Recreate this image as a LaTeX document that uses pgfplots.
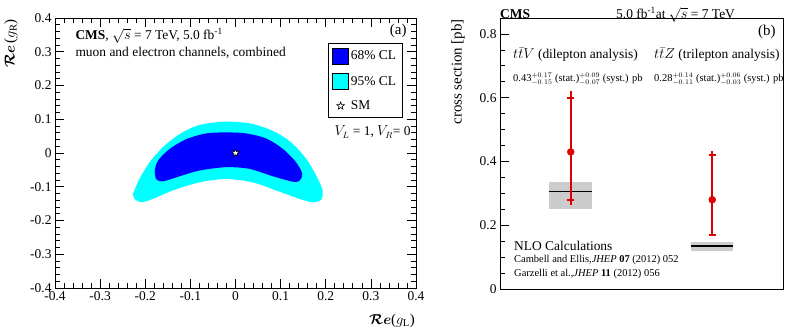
\documentclass[border=0pt]{standalone}
\usepackage{amsmath,amssymb}
\usepackage{pgfplots}
\pgfplotsset{compat=1.18}
\usepackage{fontspec}
\setmainfont{Liberation Serif}
\definecolor{cmsred}{HTML}{DD0000}
\definecolor{cla}{HTML}{0000FF}
\definecolor{clb}{HTML}{00FFFF}
\newcommand\fA{\fontsize{13.5}{16}\selectfont}
\newcommand\fB{\fontsize{10.5}{12}\selectfont}
\newcommand\fC{\fontsize{15}{17}\selectfont}

% open star with white fill
\pgfdeclareplotmark{wstar}{%
  \pgfpathmoveto{\pgfpointpolar{90}{\pgfplotmarksize}}%
  \pgfpathlineto{\pgfpointpolar{126}{0.42\pgfplotmarksize}}%
  \pgfpathlineto{\pgfpointpolar{162}{\pgfplotmarksize}}%
  \pgfpathlineto{\pgfpointpolar{198}{0.42\pgfplotmarksize}}%
  \pgfpathlineto{\pgfpointpolar{234}{\pgfplotmarksize}}%
  \pgfpathlineto{\pgfpointpolar{270}{0.42\pgfplotmarksize}}%
  \pgfpathlineto{\pgfpointpolar{306}{\pgfplotmarksize}}%
  \pgfpathlineto{\pgfpointpolar{342}{0.42\pgfplotmarksize}}%
  \pgfpathlineto{\pgfpointpolar{18}{\pgfplotmarksize}}%
  \pgfpathlineto{\pgfpointpolar{54}{0.42\pgfplotmarksize}}%
  \pgfpathclose
  \pgfusepathqfillstroke}

\pgfplotsset{
  rootaxis/.style={
    scale only axis,
    tick align=inside,
    major tick length=9bp,
    minor tick length=5bp,
    every tick/.style={black, line width=0.7bp},
    axis line style={line width=0.8bp},
    tick label style={font=\fA},
    /pgf/number format/assume math mode=true,
  },
}

\begin{document}
\begin{tikzpicture}
\useasboundingbox (0,0) rectangle (789bp,333bp);

% ---------- (a) coupling limits ----------
\begin{axis}[rootaxis,
    at={(55bp,45bp)}, anchor=south west,
    width=361bp, height=270bp,
    xmin=-0.4, xmax=0.4, ymin=-0.4, ymax=0.4,
    xtick={-0.4,-0.3,-0.2,-0.1,0,0.1,0.2,0.3,0.4},
    ytick={-0.4,-0.3,-0.2,-0.1,0,0.1,0.2,0.3,0.4},
    minor tick num=4,
    legend style={at={(0.756,0.907)}, anchor=north west, draw=black, line width=0.8bp,
                  font=\fA, inner sep=4bp, row sep=9bp},
    legend cell align=left,
]
\addplot[fill=clb, draw=none, smooth, tension=0.5, forget plot] coordinates {
  (-0.227,-0.121) (-0.213,-0.077) (-0.190,-0.027) (-0.161,0.017) (-0.124,0.056)
  (-0.080,0.083) (-0.021,0.093) (0.038,0.086) (0.090,0.061) (0.127,0.027)
  (0.157,-0.018) (0.179,-0.067) (0.193,-0.111) (0.190,-0.138) (0.171,-0.146)
  (0.142,-0.136) (0.090,-0.111) (0.038,-0.087) (-0.021,-0.077) (-0.080,-0.087)
  (-0.139,-0.111) (-0.183,-0.136) (-0.209,-0.146) (-0.224,-0.136) (-0.227,-0.121)};
\addplot[fill=cla, draw=none, smooth, tension=0.5, forget plot] coordinates {
  (-0.179,-0.052) (-0.172,-0.023) (-0.146,0.012) (-0.109,0.041) (-0.065,0.058)
  (-0.021,0.061) (0.024,0.058) (0.068,0.043) (0.105,0.012) (0.134,-0.027)
  (0.148,-0.062) (0.142,-0.082) (0.127,-0.085) (0.083,-0.069) (0.031,-0.047)
  (-0.021,-0.042) (-0.080,-0.052) (-0.124,-0.069) (-0.161,-0.084) (-0.176,-0.077)
  (-0.179,-0.052)};
\addplot[only marks, mark=wstar, mark size=4bp, mark options={fill=white, draw=black, line width=0.6bp}, forget plot]
  coordinates {(0,0)};

\addlegendimage{legend image code/.code={\draw[fill=cla, draw=black, line width=0.6bp] (0bp,-8bp) rectangle (16bp,8bp);}}
\addlegendentry{68\% CL}
\addlegendimage{legend image code/.code={\draw[fill=clb, draw=black, line width=0.6bp] (0bp,-8bp) rectangle (16bp,8bp);}}
\addlegendentry{95\% CL}
\addlegendimage{legend image code/.code={\pgfsetlinewidth{0.6bp}\pgfsetfillcolor{white}\pgfsetstrokecolor{black}%
   \pgfplotmarksize=4bp\pgftransformshift{\pgfpoint{8bp}{0bp}}\pgfuseplotmark{wstar}}}
\addlegendentry{SM}
\end{axis}

\node[anchor=base west, font=\fA] at (72bp,293bp) {\textbf{CMS}, $\sqrt{s}$ = 7 TeV, 5.0 fb\textsuperscript{-1}};
\node[anchor=base west, font=\fA] at (72bp,276bp) {muon and electron channels, combined};
\node[anchor=base east, font=\fC] at (410bp,298bp) {(a)};
\node[anchor=base west, font=\fA] at (331bp,197bp) {$V_{L}$ = 1, $V_{R}$= 0};
\node[rotate=90, anchor=north east, font=\fC, inner sep=1bp] at (3bp,315bp) {$\boldsymbol{\mathcal{R}e}$\,($g_{\mathrm{R}}$)};
\node[anchor=east, font=\fC, inner sep=1bp] at (416bp,12bp) {$\boldsymbol{\mathcal{R}e}$($g_{\mathrm{L}}$)};

% ---------- (b) cross sections ----------
\begin{axis}[rootaxis,
    at={(500bp,44bp)}, anchor=south west,
    width=283bp, height=271bp,
    xmin=0, xmax=2, ymin=0, ymax=0.85,
    xtick=\empty,
    ytick={0,0.2,0.4,0.6,0.8},
    minor y tick num=3,
    ytick pos=left,
]
% NLO predictions
\addplot[fill=gray!40, draw=none] coordinates {(0.349,0.251) (0.650,0.251) (0.650,0.335) (0.349,0.335)} -- cycle;
\addplot[black, line width=1.7bp] coordinates {(0.349,0.306) (0.650,0.306)};
\addplot[fill=gray!40, draw=none] coordinates {(1.348,0.120) (1.647,0.120) (1.647,0.148) (1.348,0.148)} -- cycle;
\addplot[black, line width=1.7bp] coordinates {(1.348,0.134) (1.647,0.134)};
% total uncertainty
\addplot[cmsred, only marks, mark=none,
    error bars/.cd, y dir=both, y explicit, error mark=none,
    error bar style={line width=1.6bp, cmsred}]
  coordinates {(0.5,0.43) += (0,0.192) -= (0,0.166)
               (1.5,0.28) += (0,0.152) -= (0,0.114)};
% statistical uncertainty and measured value
\addplot[cmsred, only marks, mark=*, mark size=3.5bp,
    error bars/.cd, y dir=both, y explicit,
    error bar style={line width=1.6bp, cmsred},
    error mark options={rotate=90, cmsred, line width=1.6bp, mark size=3.5bp}]
  coordinates {(0.5,0.43) += (0,0.17) -= (0,0.15)
               (1.5,0.28) += (0,0.14) -= (0,0.11)};
\end{axis}

\node[anchor=base west, font=\fA, inner sep=0pt] at (500bp,314bp) {\textbf{CMS}};
\node[anchor=base west, font=\fA, inner sep=0pt] at (616bp,314bp) {5.0 fb\textsuperscript{-1}at $\sqrt{s}$ = 7 TeV};
\node[anchor=base east, font=\fC] at (779bp,297bp) {(b)};
\node[anchor=base west, font=\fA, inner sep=0pt] at (513bp,274bp) {$t\bar{t}V$ (dilepton analysis)};
\node[anchor=base west, font=\fB, inner sep=0pt] at (513bp,251bp) {0.43$^{+0.17}_{-0.15}$ (stat.)$^{+0.09}_{-0.07}$ (syst.) pb};
\node[anchor=base west, font=\fA, inner sep=0pt] at (654bp,274bp) {$t\bar{t}Z$ (trilepton analysis)};
\node[anchor=base west, font=\fB, inner sep=0pt] at (654bp,251bp) {0.28$^{+0.14}_{-0.11}$ (stat.)$^{+0.06}_{-0.03}$ (syst.) pb};
\node[anchor=base west, font=\fA, inner sep=0pt] at (514bp,82bp) {NLO Calculations};
\node[anchor=base west, font=\fB, inner sep=0pt] at (514bp,70bp) {Cambell and Ellis,\textit{JHEP} \textbf{07} (2012) 052};
\node[anchor=base west, font=\fB, inner sep=0pt] at (514bp,56bp) {Garzelli et al.,\textit{JHEP} \textbf{11} (2012) 056};
\node[rotate=90, anchor=north east, font=\fC, inner sep=1bp] at (450bp,315bp) {cross section [pb]};
\end{tikzpicture}
\end{document}
